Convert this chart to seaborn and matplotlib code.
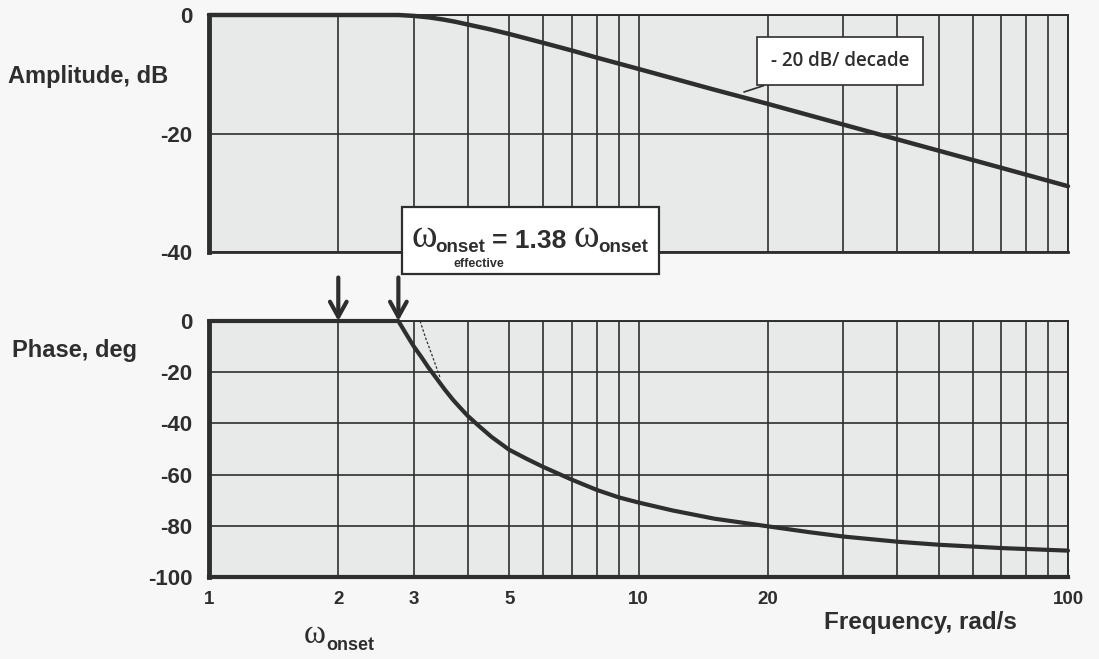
import numpy as np
import pandas as pd
import matplotlib
matplotlib.use("Agg")
import matplotlib.pyplot as plt
from matplotlib.patches import Rectangle
import seaborn as sns

# ---------------- data ----------------
amp_freq = [1, 2, 2.76, 3, 3.25, 3.5, 3.75, 4, 4.5, 5, 6, 7, 8, 9, 10, 15, 20, 30, 50, 70, 100]
amp_db = [0, 0, 0, -0.15, -0.4, -0.75, -1.15, -1.6, -2.4, -3.2, -4.7, -6.0, -7.2, -8.2,
          -9.1, -12.6, -15.0, -18.5, -22.9, -25.8, -28.9]

ph_freq = [1, 2, 2.76, 2.9, 3.0, 3.12, 3.24, 3.4, 3.54, 3.7, 3.85, 4.0, 4.25, 4.55, 5,
           5.5, 6, 7, 8, 9, 10, 12, 15, 20, 25, 30, 40, 50, 70, 100]
ph_deg = [0, 0, 0, -6, -10, -14, -18.1, -22.8, -26.8, -30.8, -34.0, -37.0, -41.0, -45.3,
          -50.3, -53.9, -57.0, -62.0, -66.0, -68.9, -70.9, -74.0, -77.2, -80.2, -82.5,
          -84.2, -86.2, -87.4, -88.7, -89.7]

asym_freq = [3.1, 3.2, 3.3, 3.45]
asym_deg = [0, -7, -13, -22]

onset = 2.0
onset_eff = 2.76

grid_x = [1, 2, 3, 4, 5, 6, 7, 8, 9, 10, 20, 30, 40, 50, 60, 70, 80, 90, 100]
x_labels = ["1", "2", "3", "", "5", "", "", "", "", "10", "20", "", "", "", "", "", "", "", "100"]
amp_ticks = [0, -20, -40]
ph_ticks = [0, -20, -40, -60, -80, -100]

# ---------------- style ----------------
sns.set_theme(style="white")
plt.rcParams["font.family"] = ["Liberation Sans", "DejaVu Sans"]

ink = "#2e2e2e"
face = "#e8eaea"
W, H = 1099, 659

fig = plt.figure(figsize=(W / 100, H / 100), dpi=100)
fig.patch.set_facecolor("#f7f7f7")

def fx(px):
    return px / W

def fy(py):
    return 1 - py / H

ax1 = fig.add_axes([fx(209), fy(252), fx(1068 - 209), (252 - 15) / H])
ax2 = fig.add_axes([fx(209), fy(577), fx(1068 - 209), (577 - 321) / H])

amp_df = pd.DataFrame({"freq": amp_freq, "amp": amp_db})
ph_df = pd.DataFrame({"freq": ph_freq, "phase": ph_deg})

for ax, ticks, lo in [(ax1, amp_ticks, -40), (ax2, ph_ticks, -100)]:
    ax.set_facecolor(face)
    ax.set_xscale("log")
    ax.set_xlim(1, 100)
    ax.set_ylim(lo, 0)
    ax.set_xticks(grid_x)
    ax.xaxis.set_minor_locator(matplotlib.ticker.NullLocator())
    ax.set_yticks(ticks)
    ax.set_yticklabels([str(t) for t in ticks], fontsize=16, fontweight="bold", color=ink)
    ax.grid(True, which="major", axis="both", color=ink, lw=1.2)
    ax.tick_params(length=0, pad=12)
    for s in ["top", "bottom", "right"]:
        ax.spines[s].set_color(ink)
        ax.spines[s].set_linewidth(1.4)
    ax.spines["left"].set_color(ink)
    ax.spines["left"].set_linewidth(3.5)

ax1.set_xticklabels([""] * len(grid_x))
ax2.set_xticklabels(x_labels, fontsize=13.5, fontweight="bold", color=ink)
ax2.tick_params(axis="x", pad=10)
ax2.spines["bottom"].set_linewidth(3.0)
ax1.spines["bottom"].set_linewidth(2.0)

sns.lineplot(data=amp_df, x="freq", y="amp", ax=ax1, color=ink, lw=3.2, clip_on=False)
sns.lineplot(data=ph_df, x="freq", y="phase", ax=ax2, color=ink, lw=3.0, clip_on=False)
ax2.plot(asym_freq, asym_deg, color=ink, lw=0.9, ls=(0, (2, 1.5)))
for ax in (ax1, ax2):
    ax.set_xlabel("")
    ax.set_ylabel("")

# labels
fig.text(fx(8), fy(77), "Amplitude, dB", fontsize=17, fontweight="bold", color=ink, va="center", ha="left")
fig.text(fx(12), fy(350), "Phase, deg", fontsize=17, fontweight="bold", color=ink, va="center", ha="left")
fig.text(fx(824), fy(623), "Frequency, rad/s", fontsize=17.5, fontweight="bold", color=ink, va="center", ha="left")

serif = ["Liberation Serif", "DejaVu Serif"]
# omega_onset label under the axis
fig.text(fx(315), fy(635), "ω", fontsize=24, family=serif, color=ink, ha="center", va="center")
fig.text(fx(326), fy(645), "onset", fontsize=13, fontweight="bold", color=ink, ha="left", va="center")

# slope callout
ax1.annotate("- 20 dB/ decade", xy=(17.6, -13.0), xytext=(fx(840), fy(61)),
             textcoords="figure fraction", ha="center", va="center",
             fontsize=13.5, fontweight="semibold", family="Open Sans", color=ink,
             bbox=dict(boxstyle="square,pad=0.75", fc="white", ec=ink, lw=1.2),
             arrowprops=dict(arrowstyle="-", color=ink, lw=1.2, shrinkA=0, shrinkB=0))

# effective onset box
fig.patches.append(Rectangle((fx(402), fy(274)), fx(659 - 402), (274 - 207) / H,
                             transform=fig.transFigure, fc="white", ec=ink, lw=1.6, zorder=5))
fig.text(fx(424), fy(237), "ω", fontsize=28, family=serif, color=ink, ha="center", va="center", zorder=6)
fig.text(fx(435), fy(248), "onset", fontsize=13.5, fontweight="bold", color=ink, ha="left", va="center", zorder=6)
fig.text(fx(479), fy(264), "effective", fontsize=9, fontweight="bold", color=ink, ha="center", va="center", zorder=6)
fig.text(fx(492), fy(241), "= 1.38", fontsize=19, fontweight="bold", color=ink, ha="left", va="center", zorder=6)
fig.text(fx(586), fy(237), "ω", fontsize=28, family=serif, color=ink, ha="center", va="center", zorder=6)
fig.text(fx(598), fy(248), "onset", fontsize=13.5, fontweight="bold", color=ink, ha="left", va="center", zorder=6)

# onset arrows
for f in (onset, onset_eff):
    ax2.annotate("", xy=(f, 0), xytext=(f, 17), textcoords=("data", "data"),
                 annotation_clip=False,
                 arrowprops=dict(arrowstyle="->,head_length=0.9,head_width=0.5",
                                 color=ink, lw=3, shrinkA=0, shrinkB=0))

fig.savefig("out.png", dpi=100, facecolor=fig.get_facecolor())
